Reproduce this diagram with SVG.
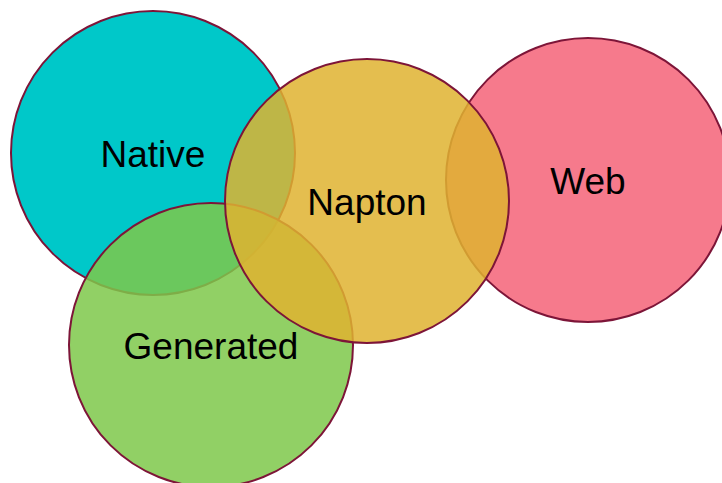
<svg xmlns="http://www.w3.org/2000/svg" width="722" height="483" viewBox="0 0 722 483">
  <style>
    .ring { stroke: #7d1538; stroke-width: 2; }
    .tint { fill-opacity: 0.85; }
    .label { font-family: "Liberation Sans", Arial, sans-serif; font-size: 37px; fill: #000; text-anchor: middle; }
  </style>
  <rect width="722" height="483" fill="#ffffff"/>
  <g id="native">
    <circle class="ring" cx="153" cy="153" r="142" fill="#00c8c9"/>
    <text class="label" x="153" y="167">Native</text>
  </g>
  <g id="generated">
    <circle class="ring tint" cx="211" cy="345" r="142" fill="#7ec84a"/>
    <text class="label" x="211" y="359">Generated</text>
  </g>
  <g id="web">
    <circle class="ring" cx="588" cy="180" r="142" fill="#f67a8c"/>
    <text class="label" x="588" y="194">Web</text>
  </g>
  <g id="napton">
    <circle class="ring tint" cx="367" cy="201" r="142" fill="#dfb330"/>
    <text class="label" x="367" y="215">Napton</text>
  </g>
  <g id="connectors"/>
</svg>
